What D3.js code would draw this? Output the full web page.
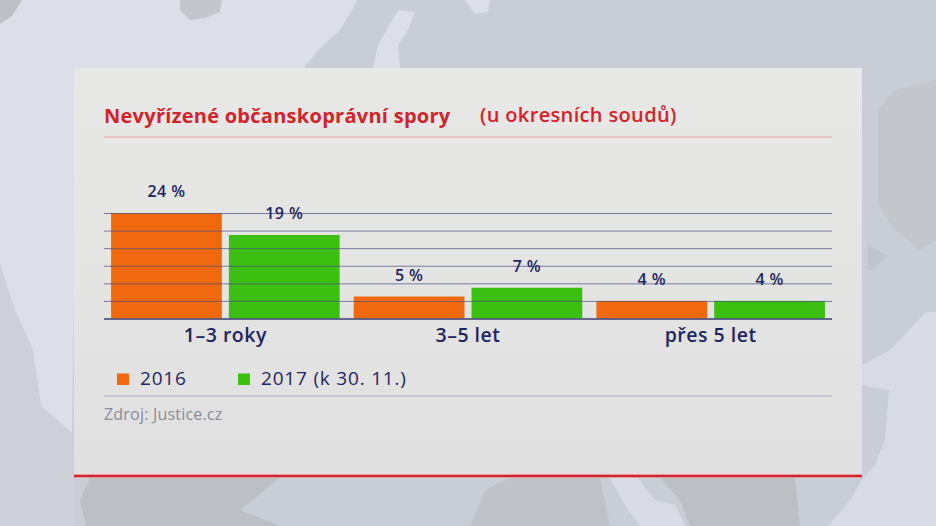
<!DOCTYPE html>
<html>
<head>
<meta charset="utf-8">
<script src="https://cdn.jsdelivr.net/npm/d3@7"></script>
<style>
body { margin: 0; background: #c9cdd5; overflow: hidden; }
text { font-family: "Open Sans", "Noto Sans", sans-serif; }
</style>
</head>
<body>
<script>
var categories = ["1–3 roky", "3–5 let", "přes 5 let"];
var seriesNames = ["2016", "2017 (k 30. 11.)"];
var values2016 = [24, 5, 4];
var values2017 = [19, 7, 4];
var gridTicks = [0, 4, 8, 12, 16, 20, 24];

var colors = ["#f0690f", "#3bbf10"];
var navy = "#1f2560";
var red = "#d2232a";

//Width and height
var w = 936;
var h = 526;

var svg = d3.select("body")
    .append("svg")
    .attr("width", w)
    .attr("height", h);

// map in the background, only a rough backdrop
var backdrop = [
    // light sea, top left
    { d: "M0,0H358L340,30L318,50L304,68H90V300H0Z", fill: "#dcdfe8" },
    { d: "M0,263L15,310L33,350L41,406L72,433L74,480L74,526H0Z", fill: "#cdd0d8" },
    { d: "M33,350L41,406L72,433L74,300L0,200V263L15,310Z", fill: "#dcdfe8" },
    { d: "M0,0H22L12,16L0,24Z", fill: "#bdc0c5" },
    { d: "M180,0H222L220,12L205,18L190,20L180,10Z", fill: "#c3c6cc" },
    // strait
    { d: "M398,10L415,12L408,30L398,45L400,68H373L378,45Z", fill: "#dcdfe8" },
    { d: "M465,0H490L488,12L475,14Z", fill: "#dcdfe8" },
    // right side
    { d: "M878,110L895,90L936,80V240L920,250L895,230L878,205Z", fill: "#c3c6cb" },
    { d: "M868,245L888,256L872,270H868Z", fill: "#bfc3cc" },
    { d: "M856,368L890,350L926,312L936,312V526H828L850,500L862,480L875,465L885,440L889,390L862,385Z", fill: "#d8dbe4" },
    // bottom land
    { d: "M86,526L80,500L90,478H280L240,510L280,526Z", fill: "#bcbfc4" },
    { d: "M470,526L485,490L510,478H600L610,526Z", fill: "#bfc2c8" },
    { d: "M609,478H638L655,500L675,505L686,526H640L625,505Z", fill: "#d8dbe4" },
    { d: "M660,478H795L800,526H690L680,500Z", fill: "#bcbfc4" }
];
svg.selectAll("path.land")
    .data(backdrop)
    .enter()
    .append("path")
    .attr("class", "land")
    .attr("d", function (d) { return d.d; })
    .attr("fill", function (d) { return d.fill; });

// Panel
var grad = svg.append("defs")
    .append("linearGradient")
    .attr("id", "panelFill")
    .attr("x1", 0).attr("x2", 0)
    .attr("y1", 0).attr("y2", 1);
grad.append("stop").attr("offset", "0%").attr("stop-color", "#e8e8e7");
grad.append("stop").attr("offset", "100%").attr("stop-color", "#e0e0e0");

svg.append("rect")
    .attr("x", 74)
    .attr("y", 68)
    .attr("width", 788)
    .attr("height", 408)
    .attr("fill", "url(#panelFill)");

svg.append("rect")
    .attr("x", 74)
    .attr("y", 474)
    .attr("width", 788)
    .attr("height", 4)
    .attr("fill", "#eb9a9c");
svg.append("rect")
    .attr("x", 74)
    .attr("y", 475)
    .attr("width", 788)
    .attr("height", 2)
    .attr("fill", "#cf2530");

// Title
svg.append("text")
    .attr("x", 104)
    .attr("y", 123)
    .attr("font-size", "20px")
    .attr("letter-spacing", "0.27px")
    .attr("font-weight", 700)
    .attr("fill", red)
    .text("Nevyřízené občanskoprávní spory");

svg.append("text")
    .attr("x", 480)
    .attr("y", 122)
    .attr("font-size", "20px")
    .attr("letter-spacing", "0.35px")
    .attr("font-weight", 600)
    .attr("fill", red)
    .text("(u okresních soudů)");

svg.append("line")
    .attr("x1", 104).attr("x2", 832)
    .attr("y1", 137).attr("y2", 137)
    .attr("stroke", "#eba3a3")
    .attr("stroke-width", 1);

// Create Scales
var x0 = d3.scaleBand()
    .domain(categories)
    .range([104, 832]);

var x1 = d3.scaleBand()
    .domain(seriesNames)
    .range([0, x0.bandwidth()])
    .paddingInner(0.06)
    .paddingOuter(0.06);

var yScale = d3.scaleLinear()
    .domain([0, 24])
    .range([318.5, 213]);

// Bars
var rows = categories.map(function (c, i) {
    return [
        { cat: c, name: seriesNames[0], value: values2016[i], color: colors[0] },
        { cat: c, name: seriesNames[1], value: values2017[i], color: colors[1] }
    ];
});
var allBars = rows[0].concat(rows[1], rows[2]);

svg.selectAll("rect.bar")
    .data(allBars)
    .enter()
    .append("rect")
    .attr("class", "bar")
    .attr("x", function (d) { return x0(d.cat) + x1(d.name); })
    .attr("y", function (d) { return yScale(d.value); })
    .attr("width", x1.bandwidth())
    .attr("height", function (d) { return yScale(0) - yScale(d.value); })
    .attr("fill", function (d) { return d.color; });

// Grid lines run over the bars
var yAxis = d3.axisLeft(yScale)
    .tickValues(gridTicks)
    .tickSize(-728)
    .tickFormat("");

var gridG = svg.append("g")
    .attr("transform", "translate(104,0)")
    .call(yAxis);
gridG.select(".domain").remove();
gridG.selectAll(".tick line")
    .attr("stroke", "#4a4f80")
    .attr("stroke-opacity", 0.7)
    .attr("stroke-width", 1);
gridG.selectAll(".tick line")
    .filter(function (d) { return d === 0; })
    .attr("stroke", "#3a3f70")
    .attr("stroke-opacity", 1)
    .attr("stroke-width", 1.5);

// Value labels
svg.selectAll("text.val")
    .data(allBars)
    .enter()
    .append("text")
    .attr("class", "val")
    .attr("text-anchor", "middle")
    .attr("x", function (d) { return x0(d.cat) + x1(d.name) + x1.bandwidth() / 2; })
    .attr("y", function (d) { return yScale(d.value) - 16; })
    .attr("font-size", "16px")
    .attr("letter-spacing", "0.4px")
    .attr("font-weight", 600)
    .attr("fill", navy)
    .text(function (d) { return d.value + " %"; });

// Category labels
var xAxis = d3.axisBottom(x0).tickSize(0);
var xG = svg.append("g")
    .attr("transform", "translate(0,318.5)")
    .call(xAxis);
xG.select(".domain").remove();
xG.selectAll("text")
    .attr("y", 10)
    .attr("font-size", "19.5px")
    .attr("letter-spacing", "0.5px")
    .attr("font-weight", 600)
    .attr("font-family", "Open Sans")
    .attr("fill", navy);

// Legend
var legendX = [117, 238];
svg.selectAll("rect.leg")
    .data(seriesNames)
    .enter()
    .append("rect")
    .attr("class", "leg")
    .attr("x", function (d, i) { return legendX[i]; })
    .attr("y", 373.5)
    .attr("width", 12)
    .attr("height", 11.5)
    .attr("fill", function (d, i) { return colors[i]; });

svg.selectAll("text.leg")
    .data(seriesNames)
    .enter()
    .append("text")
    .attr("class", "leg")
    .attr("x", function (d, i) { return legendX[i] + 23; })
    .attr("y", 385)
    .attr("font-size", "19px")
    .attr("letter-spacing", "0.8px")
    .attr("fill", navy)
    .text(function (d) { return d; });

svg.append("line")
    .attr("x1", 104).attr("x2", 832)
    .attr("y1", 396).attr("y2", 396)
    .attr("stroke", "#a9abc0")
    .attr("stroke-width", 1);

// Source
svg.append("text")
    .attr("x", 104)
    .attr("y", 420)
    .attr("font-size", "16px")
    .attr("letter-spacing", "0.2px")
    .attr("fill", "#8a8c98")
    .text("Zdroj: Justice.cz");
</script>
</body>
</html>
